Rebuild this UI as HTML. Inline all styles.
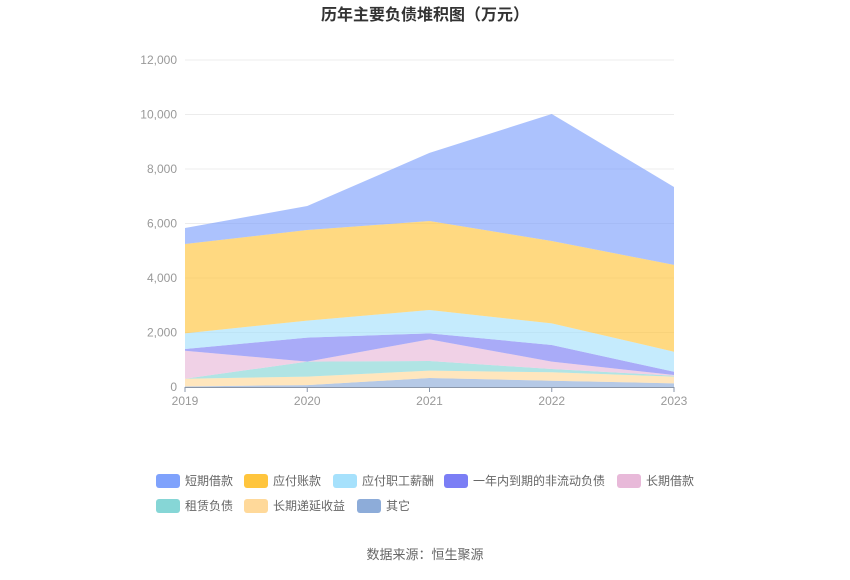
<!DOCTYPE html>
<html><head><meta charset="utf-8"><style>
body{margin:0;background:#fff;font-family:"Liberation Sans","Noto Sans CJK SC",sans-serif}
</style></head><body>
<svg width="850" height="575" xmlns="http://www.w3.org/2000/svg" style="font-family:'Liberation Sans','Noto Sans CJK SC',sans-serif">
<text x="425" y="20" text-anchor="middle" font-size="16" font-weight="bold" fill="#333">历年主要负债堆积图（万元）</text>
<g id="grid"></g><g id="areas"></g><g id="axes"></g><g id="legend"></g>
<text x="425" y="559" text-anchor="middle" font-size="13" fill="#666">数据来源：恒生聚源</text>
</svg>
<script>
const years=["2019","2020","2021","2022","2023"];
const seriesNames=["其它","长期递延收益","租赁负债","长期借款","一年内到期的非流动负债","应付职工薪酬","应付账款","短期借款"];
const other=[20,70,330,230,135];
const deferred=[285,310,270,310,245];
const lease=[0,550,355,120,35];
const longLoan=[1025,0,795,270,25];
const dueWithinYear=[65,880,220,610,120];
const payroll=[575,625,855,795,735];
const payables=[3280,3325,3265,3025,3185];
const shortLoan=[585,880,2500,4660,2860];
const yTicks=[0,2000,4000,6000,8000,10000,12000];
const NS="http://www.w3.org/2000/svg";
const colors=["#8dacd9","#ffd99a","#86d6d6","#e8b9d9","#7b7ef5","#a6e1fc","#ffc53d","#7fa2fc"];
const data=[other,deferred,lease,longLoan,dueWithinYear,payroll,payables,shortLoan];
const X=i=>185+i*(674-185)/(years.length-1);
const Y=v=>387-v*(387-60)/12000;
function mk(t,a,p){const e=document.createElementNS(NS,t);for(const k in a)e.setAttribute(k,a[k]);p.appendChild(e);return e;}
const grid=document.getElementById('grid'),axes=document.getElementById('axes'),areas=document.getElementById('areas'),legend=document.getElementById('legend');
yTicks.forEach(v=>{
 if(v>0){const l=mk('line',{x1:185,x2:674,y1:Y(v),y2:Y(v),stroke:'#ececec'},grid);
 
 }
 const t=mk('text',{x:177,y:Y(v)+4,'text-anchor':'end','font-size':12,fill:'#999'},axes);t.textContent=v.toLocaleString('en-US');
 
 
});
let base=years.map(()=>0);
data.forEach((s,k)=>{
 const top=base.map((b,i)=>b+s[i]);
 let d='M'+top.map((v,i)=>X(i)+','+Y(v)).join('L');
 for(let i=years.length-1;i>=0;i--)d+='L'+X(i)+','+Y(base[i]);
 const p=mk('path',{d:d+'Z',fill:colors[k],'fill-opacity':0.65},areas);
 
 
 base=top;
});
const ax=mk('line',{x1:185,x2:674,y1:387.5,y2:387.5,stroke:'#8a96a8'},axes);


years.forEach((y,i)=>{
 mk('line',{x1:X(i),x2:X(i),y1:387,y2:392,stroke:'#8a96a8'},axes);
 const t=mk('text',{x:X(i),y:405,'text-anchor':'middle','font-size':12,fill:'#999'},axes);t.textContent=y;
 
 
});
const legendOrder=[7,6,5,4,3,2,1,0];
const pos=[[156,481],[244,481],[333,481],[444,481],[617,481],[156,506],[244,506],[357,506]];
legendOrder.forEach((k,j)=>{
 const g=mk('g',{},legend);
 
 
 mk('rect',{x:pos[j][0],y:pos[j][1]-7,width:24,height:14,rx:3,fill:colors[k]},g);
 const t=mk('text',{x:pos[j][0]+29,y:pos[j][1]+4,'font-size':12,fill:'#666'},g);t.textContent=seriesNames[k];
});
</script>
</body></html>
